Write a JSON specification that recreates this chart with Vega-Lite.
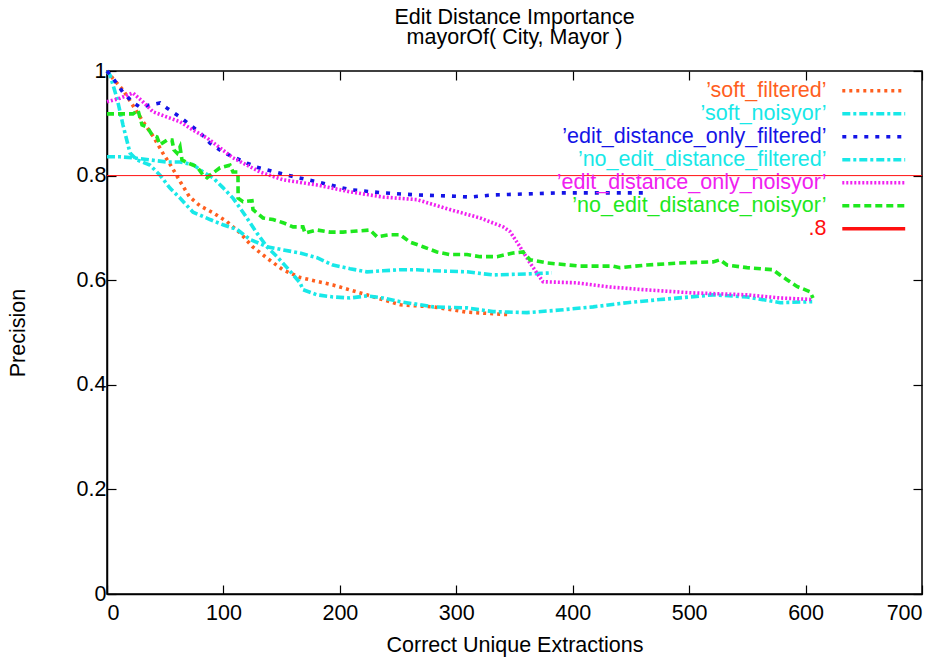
{
  "$schema": "https://vega.github.io/schema/vega-lite/v6.json",
  "width": 815,
  "height": 523,
  "autosize": {"type": "none"},
  "padding": {"left": 107, "top": 71, "right": 25, "bottom": 68},
  "background": "white",
  "title": {
    "text": ["Edit Distance Importance", "mayorOf( City, Mayor )"],
    "anchor": "middle",
    "fontSize": 21.5,
    "lineHeight": 20,
    "fontWeight": "normal",
    "font": "Liberation Sans",
    "color": "black",
    "offset": 12
  },
  "config": {
    "font": "Liberation Sans",
    "view": {"stroke": "black", "strokeWidth": 1.5},
    "axis": {
      "grid": false,
      "domainColor": "black",
      "domainWidth": 1.5,
      "tickColor": "black",
      "tickWidth": 1.2,
      "tickSize": -9,
      "labelColor": "black",
      "labelFont": "Liberation Sans",
      "labelFontSize": 21.5,
      "titleFont": "Liberation Sans",
      "titleFontSize": 21.5,
      "titleFontWeight": "normal",
      "titleColor": "black"
    },
    "legend": {
      "orient": "top-right",
      "offset": 9,
      "padding": 0,
      "title": null,
      "labelAlign": "right",
      "labelOffset": -58,
      "labelFont": "Liberation Sans",
      "labelFontSize": 21.5,
      "labelLimit": 0,
      "symbolType": "M-3.7,0H3.7",
      "symbolSize": 289,
      "symbolStrokeWidth": 3.5,
      "rowPadding": 0
    }
  },
  "data": {
    "values": [
      {"s": "’soft_filtered’", "x": 0, "y": 1.0},
      {"s": "’soft_filtered’", "x": 5, "y": 0.986},
      {"s": "’soft_filtered’", "x": 14, "y": 0.963},
      {"s": "’soft_filtered’", "x": 22, "y": 0.935},
      {"s": "’soft_filtered’", "x": 31, "y": 0.903},
      {"s": "’soft_filtered’", "x": 40, "y": 0.874},
      {"s": "’soft_filtered’", "x": 48, "y": 0.843},
      {"s": "’soft_filtered’", "x": 56, "y": 0.815},
      {"s": "’soft_filtered’", "x": 63, "y": 0.788},
      {"s": "’soft_filtered’", "x": 71, "y": 0.759},
      {"s": "’soft_filtered’", "x": 80, "y": 0.742},
      {"s": "’soft_filtered’", "x": 91, "y": 0.729},
      {"s": "’soft_filtered’", "x": 103, "y": 0.712},
      {"s": "’soft_filtered’", "x": 114, "y": 0.691},
      {"s": "’soft_filtered’", "x": 125, "y": 0.664},
      {"s": "’soft_filtered’", "x": 137, "y": 0.643},
      {"s": "’soft_filtered’", "x": 151, "y": 0.62},
      {"s": "’soft_filtered’", "x": 166, "y": 0.605},
      {"s": "’soft_filtered’", "x": 194, "y": 0.591},
      {"s": "’soft_filtered’", "x": 223, "y": 0.572},
      {"s": "’soft_filtered’", "x": 252, "y": 0.553},
      {"s": "’soft_filtered’", "x": 280, "y": 0.549},
      {"s": "’soft_filtered’", "x": 309, "y": 0.539},
      {"s": "’soft_filtered’", "x": 346, "y": 0.534},

      {"s": "’soft_noisyor’", "x": 0, "y": 1.0},
      {"s": "’soft_noisyor’", "x": 2.6, "y": 0.992},
      {"s": "’soft_noisyor’", "x": 8.6, "y": 0.948},
      {"s": "’soft_noisyor’", "x": 13.7, "y": 0.897},
      {"s": "’soft_noisyor’", "x": 19.8, "y": 0.843},
      {"s": "’soft_noisyor’", "x": 25.8, "y": 0.83},
      {"s": "’soft_noisyor’", "x": 36.9, "y": 0.82},
      {"s": "’soft_noisyor’", "x": 45.5, "y": 0.801},
      {"s": "’soft_noisyor’", "x": 54.1, "y": 0.776},
      {"s": "’soft_noisyor’", "x": 62.7, "y": 0.757},
      {"s": "’soft_noisyor’", "x": 73.9, "y": 0.73},
      {"s": "’soft_noisyor’", "x": 88.5, "y": 0.716},
      {"s": "’soft_noisyor’", "x": 99.6, "y": 0.706},
      {"s": "’soft_noisyor’", "x": 111.7, "y": 0.697},
      {"s": "’soft_noisyor’", "x": 122.8, "y": 0.678},
      {"s": "’soft_noisyor’", "x": 137.4, "y": 0.664},
      {"s": "’soft_noisyor’", "x": 151.2, "y": 0.658},
      {"s": "’soft_noisyor’", "x": 165.8, "y": 0.652},
      {"s": "’soft_noisyor’", "x": 180.4, "y": 0.643},
      {"s": "’soft_noisyor’", "x": 194.1, "y": 0.629},
      {"s": "’soft_noisyor’", "x": 208.7, "y": 0.622},
      {"s": "’soft_noisyor’", "x": 223.3, "y": 0.616},
      {"s": "’soft_noisyor’", "x": 237.1, "y": 0.618},
      {"s": "’soft_noisyor’", "x": 251.7, "y": 0.62},
      {"s": "’soft_noisyor’", "x": 266.3, "y": 0.62},
      {"s": "’soft_noisyor’", "x": 280.0, "y": 0.618},
      {"s": "’soft_noisyor’", "x": 309.2, "y": 0.616},
      {"s": "’soft_noisyor’", "x": 331.5, "y": 0.61},
      {"s": "’soft_noisyor’", "x": 360.7, "y": 0.612},
      {"s": "’soft_noisyor’", "x": 382.2, "y": 0.614},

      {"s": "’edit_distance_only_filtered’", "x": 0, "y": 1.0},
      {"s": "’edit_distance_only_filtered’", "x": 5.2, "y": 0.986},
      {"s": "’edit_distance_only_filtered’", "x": 13.7, "y": 0.959},
      {"s": "’edit_distance_only_filtered’", "x": 22.3, "y": 0.94},
      {"s": "’edit_distance_only_filtered’", "x": 28.3, "y": 0.931},
      {"s": "’edit_distance_only_filtered’", "x": 36.9, "y": 0.935},
      {"s": "’edit_distance_only_filtered’", "x": 45.5, "y": 0.939},
      {"s": "’edit_distance_only_filtered’", "x": 51.5, "y": 0.929},
      {"s": "’edit_distance_only_filtered’", "x": 62.7, "y": 0.912},
      {"s": "’edit_distance_only_filtered’", "x": 71.3, "y": 0.897},
      {"s": "’edit_distance_only_filtered’", "x": 79.9, "y": 0.882},
      {"s": "’edit_distance_only_filtered’", "x": 88.5, "y": 0.862},
      {"s": "’edit_distance_only_filtered’", "x": 99.6, "y": 0.845},
      {"s": "’edit_distance_only_filtered’", "x": 108.2, "y": 0.836},
      {"s": "’edit_distance_only_filtered’", "x": 120.2, "y": 0.824},
      {"s": "’edit_distance_only_filtered’", "x": 128.8, "y": 0.816},
      {"s": "’edit_distance_only_filtered’", "x": 154.6, "y": 0.801},
      {"s": "’edit_distance_only_filtered’", "x": 180.4, "y": 0.788},
      {"s": "’edit_distance_only_filtered’", "x": 208.7, "y": 0.773},
      {"s": "’edit_distance_only_filtered’", "x": 237.1, "y": 0.767},
      {"s": "’edit_distance_only_filtered’", "x": 266.3, "y": 0.763},
      {"s": "’edit_distance_only_filtered’", "x": 294.6, "y": 0.761},
      {"s": "’edit_distance_only_filtered’", "x": 311.8, "y": 0.759},
      {"s": "’edit_distance_only_filtered’", "x": 331.5, "y": 0.763},
      {"s": "’edit_distance_only_filtered’", "x": 360.7, "y": 0.765},
      {"s": "’edit_distance_only_filtered’", "x": 389.1, "y": 0.767},
      {"s": "’edit_distance_only_filtered’", "x": 417.5, "y": 0.767},
      {"s": "’edit_distance_only_filtered’", "x": 462.1, "y": 0.767},

      {"s": "’no_edit_distance_filtered’", "x": 0, "y": 0.836},
      {"s": "’no_edit_distance_filtered’", "x": 11.2, "y": 0.836},
      {"s": "’no_edit_distance_filtered’", "x": 22.3, "y": 0.834},
      {"s": "’no_edit_distance_filtered’", "x": 36.9, "y": 0.83},
      {"s": "’no_edit_distance_filtered’", "x": 51.5, "y": 0.826},
      {"s": "’no_edit_distance_filtered’", "x": 62.7, "y": 0.826},
      {"s": "’no_edit_distance_filtered’", "x": 73.9, "y": 0.821},
      {"s": "’no_edit_distance_filtered’", "x": 82.5, "y": 0.807},
      {"s": "’no_edit_distance_filtered’", "x": 91.0, "y": 0.796},
      {"s": "’no_edit_distance_filtered’", "x": 99.6, "y": 0.777},
      {"s": "’no_edit_distance_filtered’", "x": 108.2, "y": 0.757},
      {"s": "’no_edit_distance_filtered’", "x": 116.8, "y": 0.73},
      {"s": "’no_edit_distance_filtered’", "x": 128.8, "y": 0.69},
      {"s": "’no_edit_distance_filtered’", "x": 137.4, "y": 0.664},
      {"s": "’no_edit_distance_filtered’", "x": 146.0, "y": 0.645},
      {"s": "’no_edit_distance_filtered’", "x": 154.6, "y": 0.624},
      {"s": "’no_edit_distance_filtered’", "x": 165.8, "y": 0.595},
      {"s": "’no_edit_distance_filtered’", "x": 168.3, "y": 0.582},
      {"s": "’no_edit_distance_filtered’", "x": 180.4, "y": 0.572},
      {"s": "’no_edit_distance_filtered’", "x": 194.1, "y": 0.568},
      {"s": "’no_edit_distance_filtered’", "x": 208.7, "y": 0.566},
      {"s": "’no_edit_distance_filtered’", "x": 223.3, "y": 0.57},
      {"s": "’no_edit_distance_filtered’", "x": 237.1, "y": 0.566},
      {"s": "’no_edit_distance_filtered’", "x": 251.7, "y": 0.559},
      {"s": "’no_edit_distance_filtered’", "x": 280.0, "y": 0.549},
      {"s": "’no_edit_distance_filtered’", "x": 309.2, "y": 0.547},
      {"s": "’no_edit_distance_filtered’", "x": 331.5, "y": 0.54},
      {"s": "’no_edit_distance_filtered’", "x": 360.7, "y": 0.538},
      {"s": "’no_edit_distance_filtered’", "x": 389.1, "y": 0.543},
      {"s": "’no_edit_distance_filtered’", "x": 417.5, "y": 0.549},
      {"s": "’no_edit_distance_filtered’", "x": 446.7, "y": 0.557},
      {"s": "’no_edit_distance_filtered’", "x": 475.0, "y": 0.563},
      {"s": "’no_edit_distance_filtered’", "x": 500.8, "y": 0.568},
      {"s": "’no_edit_distance_filtered’", "x": 520.5, "y": 0.572},
      {"s": "’no_edit_distance_filtered’", "x": 549.8, "y": 0.568},
      {"s": "’no_edit_distance_filtered’", "x": 578.2, "y": 0.557},
      {"s": "’no_edit_distance_filtered’", "x": 605.7, "y": 0.559},

      {"s": "’edit_distance_only_noisyor’", "x": 0, "y": 0.941},
      {"s": "’edit_distance_only_noisyor’", "x": 11.2, "y": 0.948},
      {"s": "’edit_distance_only_noisyor’", "x": 22.3, "y": 0.958},
      {"s": "’edit_distance_only_noisyor’", "x": 30.9, "y": 0.941},
      {"s": "’edit_distance_only_noisyor’", "x": 39.5, "y": 0.922},
      {"s": "’edit_distance_only_noisyor’", "x": 51.5, "y": 0.912},
      {"s": "’edit_distance_only_noisyor’", "x": 62.7, "y": 0.903},
      {"s": "’edit_distance_only_noisyor’", "x": 73.9, "y": 0.887},
      {"s": "’edit_distance_only_noisyor’", "x": 85.9, "y": 0.872},
      {"s": "’edit_distance_only_noisyor’", "x": 97.1, "y": 0.853},
      {"s": "’edit_distance_only_noisyor’", "x": 108.2, "y": 0.834},
      {"s": "’edit_distance_only_noisyor’", "x": 120.2, "y": 0.82},
      {"s": "’edit_distance_only_noisyor’", "x": 131.4, "y": 0.807},
      {"s": "’edit_distance_only_noisyor’", "x": 151.2, "y": 0.792},
      {"s": "’edit_distance_only_noisyor’", "x": 180.4, "y": 0.782},
      {"s": "’edit_distance_only_noisyor’", "x": 208.7, "y": 0.769},
      {"s": "’edit_distance_only_noisyor’", "x": 237.1, "y": 0.759},
      {"s": "’edit_distance_only_noisyor’", "x": 266.3, "y": 0.754},
      {"s": "’edit_distance_only_noisyor’", "x": 294.6, "y": 0.735},
      {"s": "’edit_distance_only_noisyor’", "x": 320.4, "y": 0.719},
      {"s": "’edit_distance_only_noisyor’", "x": 340.2, "y": 0.702},
      {"s": "’edit_distance_only_noisyor’", "x": 346.1, "y": 0.693},
      {"s": "’edit_distance_only_noisyor’", "x": 354.7, "y": 0.664},
      {"s": "’edit_distance_only_noisyor’", "x": 363.3, "y": 0.633},
      {"s": "’edit_distance_only_noisyor’", "x": 374.5, "y": 0.597},
      {"s": "’edit_distance_only_noisyor’", "x": 403.7, "y": 0.595},
      {"s": "’edit_distance_only_noisyor’", "x": 432.0, "y": 0.587},
      {"s": "’edit_distance_only_noisyor’", "x": 460.4, "y": 0.582},
      {"s": "’edit_distance_only_noisyor’", "x": 500.8, "y": 0.576},
      {"s": "’edit_distance_only_noisyor’", "x": 549.8, "y": 0.572},
      {"s": "’edit_distance_only_noisyor’", "x": 578.2, "y": 0.566},
      {"s": "’edit_distance_only_noisyor’", "x": 606.5, "y": 0.563},

      {"s": "’no_edit_distance_noisyor’", "x": 0, "y": 0.918},
      {"s": "’no_edit_distance_noisyor’", "x": 22.3, "y": 0.918},
      {"s": "’no_edit_distance_noisyor’", "x": 26.6, "y": 0.925},
      {"s": "’no_edit_distance_noisyor’", "x": 30.1, "y": 0.897},
      {"s": "’no_edit_distance_noisyor’", "x": 34.4, "y": 0.893},
      {"s": "’no_edit_distance_noisyor’", "x": 38.7, "y": 0.878},
      {"s": "’no_edit_distance_noisyor’", "x": 42.9, "y": 0.874},
      {"s": "’no_edit_distance_noisyor’", "x": 45.5, "y": 0.859},
      {"s": "’no_edit_distance_noisyor’", "x": 51.5, "y": 0.868},
      {"s": "’no_edit_distance_noisyor’", "x": 55.8, "y": 0.868},
      {"s": "’no_edit_distance_noisyor’", "x": 57.5, "y": 0.849},
      {"s": "’no_edit_distance_noisyor’", "x": 60.1, "y": 0.843},
      {"s": "’no_edit_distance_noisyor’", "x": 62.7, "y": 0.855},
      {"s": "’no_edit_distance_noisyor’", "x": 64.4, "y": 0.83},
      {"s": "’no_edit_distance_noisyor’", "x": 69.6, "y": 0.824},
      {"s": "’no_edit_distance_noisyor’", "x": 77.3, "y": 0.817},
      {"s": "’no_edit_distance_noisyor’", "x": 82.5, "y": 0.801},
      {"s": "’no_edit_distance_noisyor’", "x": 85.9, "y": 0.796},
      {"s": "’no_edit_distance_noisyor’", "x": 91.0, "y": 0.805},
      {"s": "’no_edit_distance_noisyor’", "x": 97.1, "y": 0.815},
      {"s": "’no_edit_distance_noisyor’", "x": 105.6, "y": 0.82},
      {"s": "’no_edit_distance_noisyor’", "x": 108.2, "y": 0.807},
      {"s": "’no_edit_distance_noisyor’", "x": 112.5, "y": 0.807},
      {"s": "’no_edit_distance_noisyor’", "x": 112.6, "y": 0.757},
      {"s": "’no_edit_distance_noisyor’", "x": 116.8, "y": 0.75},
      {"s": "’no_edit_distance_noisyor’", "x": 124.5, "y": 0.752},
      {"s": "’no_edit_distance_noisyor’", "x": 125.4, "y": 0.735},
      {"s": "’no_edit_distance_noisyor’", "x": 134.0, "y": 0.719},
      {"s": "’no_edit_distance_noisyor’", "x": 142.6, "y": 0.716},
      {"s": "’no_edit_distance_noisyor’", "x": 151.2, "y": 0.71},
      {"s": "’no_edit_distance_noisyor’", "x": 159.8, "y": 0.702},
      {"s": "’no_edit_distance_noisyor’", "x": 168.3, "y": 0.702},
      {"s": "’no_edit_distance_noisyor’", "x": 170.1, "y": 0.69},
      {"s": "’no_edit_distance_noisyor’", "x": 180.4, "y": 0.696},
      {"s": "’no_edit_distance_noisyor’", "x": 191.5, "y": 0.692},
      {"s": "’no_edit_distance_noisyor’", "x": 202.7, "y": 0.692},
      {"s": "’no_edit_distance_noisyor’", "x": 214.7, "y": 0.694},
      {"s": "’no_edit_distance_noisyor’", "x": 225.9, "y": 0.696},
      {"s": "’no_edit_distance_noisyor’", "x": 231.9, "y": 0.683},
      {"s": "’no_edit_distance_noisyor’", "x": 243.1, "y": 0.687},
      {"s": "’no_edit_distance_noisyor’", "x": 251.7, "y": 0.687},
      {"s": "’no_edit_distance_noisyor’", "x": 260.2, "y": 0.673},
      {"s": "’no_edit_distance_noisyor’", "x": 271.4, "y": 0.664},
      {"s": "’no_edit_distance_noisyor’", "x": 283.4, "y": 0.654},
      {"s": "’no_edit_distance_noisyor’", "x": 294.6, "y": 0.649},
      {"s": "’no_edit_distance_noisyor’", "x": 309.2, "y": 0.649},
      {"s": "’no_edit_distance_noisyor’", "x": 320.4, "y": 0.645},
      {"s": "’no_edit_distance_noisyor’", "x": 335.0, "y": 0.645},
      {"s": "’no_edit_distance_noisyor’", "x": 348.7, "y": 0.652},
      {"s": "’no_edit_distance_noisyor’", "x": 357.3, "y": 0.654},
      {"s": "’no_edit_distance_noisyor’", "x": 363.3, "y": 0.639},
      {"s": "’no_edit_distance_noisyor’", "x": 377.9, "y": 0.633},
      {"s": "’no_edit_distance_noisyor’", "x": 406.2, "y": 0.627},
      {"s": "’no_edit_distance_noisyor’", "x": 434.6, "y": 0.627},
      {"s": "’no_edit_distance_noisyor’", "x": 440.6, "y": 0.624},
      {"s": "’no_edit_distance_noisyor’", "x": 463.8, "y": 0.629},
      {"s": "’no_edit_distance_noisyor’", "x": 492.1, "y": 0.633},
      {"s": "’no_edit_distance_noisyor’", "x": 520.5, "y": 0.635},
      {"s": "’no_edit_distance_noisyor’", "x": 526.5, "y": 0.639},
      {"s": "’no_edit_distance_noisyor’", "x": 532.5, "y": 0.629},
      {"s": "’no_edit_distance_noisyor’", "x": 549.7, "y": 0.624},
      {"s": "’no_edit_distance_noisyor’", "x": 572.0, "y": 0.62},
      {"s": "’no_edit_distance_noisyor’", "x": 578.0, "y": 0.61},
      {"s": "’no_edit_distance_noisyor’", "x": 584.0, "y": 0.601},
      {"s": "’no_edit_distance_noisyor’", "x": 592.6, "y": 0.588},
      {"s": "’no_edit_distance_noisyor’", "x": 603.8, "y": 0.578},
      {"s": "’no_edit_distance_noisyor’", "x": 606.4, "y": 0.566},

      {"s": ".8", "x": 0, "y": 0.8},
      {"s": ".8", "x": 700, "y": 0.8}
    ]
  },
  "layer": [
    {
      "transform": [{"filter": "datum.s !== '.8'"}],
      "mark": {"type": "line", "strokeCap": "butt", "strokeJoin": "miter", "strokeWidth": 3.6},
      "encoding": {
        "x": {
          "field": "x", "type": "quantitative",
          "scale": {"domain": [0, 700], "nice": false, "zero": false},
          "axis": {"orient": "bottom", "values": [0, 100, 200, 300, 400, 500, 600, 700], "title": "Correct Unique Extractions", "labelPadding": 17, "titlePadding": 11}
        },
        "y": {
          "field": "y", "type": "quantitative",
          "scale": {"domain": [0, 1], "nice": false},
          "axis": {"orient": "left", "values": [0, 0.2, 0.4, 0.6, 0.8, 1], "format": "~g", "title": "Precision", "labelPadding": 10, "titlePadding": 47}
        },
        "color": {
          "field": "s", "type": "nominal",
          "scale": {
            "domain": ["’soft_filtered’", "’soft_noisyor’", "’edit_distance_only_filtered’", "’no_edit_distance_filtered’", "’edit_distance_only_noisyor’", "’no_edit_distance_noisyor’", ".8"],
            "range": ["#ff5f1f", "#18e8e8", "#1414e6", "#18e8e8", "#f020f0", "#1ee81e", "#ff1010"]
          },
          "legend": {
            "encode": {"labels": {"update": {"fill": {"scale": "color", "field": "value"}}}}
          }
        },
        "strokeDash": {
          "field": "s", "type": "nominal",
          "scale": {
            "domain": ["’soft_filtered’", "’soft_noisyor’", "’edit_distance_only_filtered’", "’no_edit_distance_filtered’", "’edit_distance_only_noisyor’", "’no_edit_distance_noisyor’", ".8"],
            "range": [[3, 4], [8, 3, 3, 3], [4, 7], [8, 3, 3, 3], [2, 2], [7, 4], [1, 0]]
          }
        }
      }
    },
    {
      "transform": [{"filter": "datum.s === '.8'"}],
      "mark": {"type": "line", "strokeCap": "butt", "strokeWidth": 1},
      "encoding": {
        "x": {"field": "x", "type": "quantitative", "axis": {"orient": "top", "values": [0, 100, 200, 300, 400, 500, 600, 700], "labels": false, "title": null, "domain": false}},
        "y": {"field": "y", "type": "quantitative", "axis": {"orient": "right", "values": [0, 0.2, 0.4, 0.6, 0.8, 1], "labels": false, "title": null, "domain": false}},
        "color": {"field": "s", "type": "nominal"},
        "strokeDash": {"field": "s", "type": "nominal"}
      }
    }
  ],
  "resolve": {"axis": {"x": "independent", "y": "independent"}}
}
